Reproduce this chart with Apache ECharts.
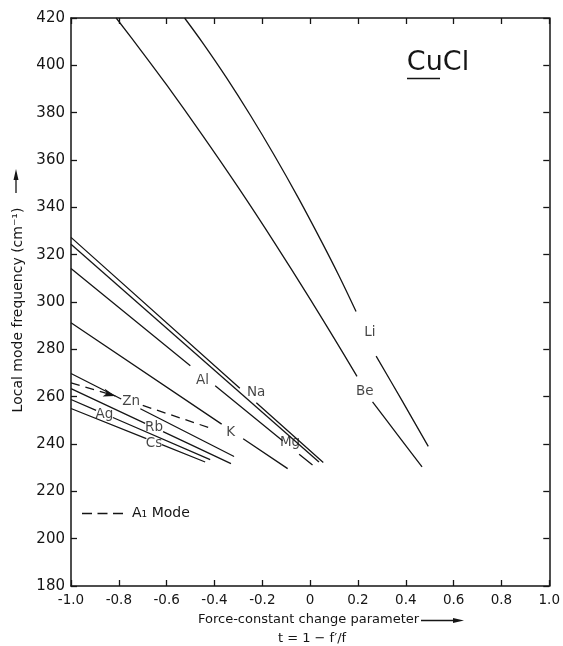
<!DOCTYPE html>
<html>
<head>
<meta charset="utf-8">
<script src="https://cdn.jsdelivr.net/npm/echarts@6/dist/echarts.min.js"></script>
<style>
  html, body { margin: 0; padding: 0; background: #fff; }
  #chart { width: 563px; height: 646px; }
</style>
</head>
<body>
<div id="chart"></div>
<script>
// Axis ranges and ticks
const xRange = [-1.0, 1.0];
const xStep = 0.2;
const yRange = [180, 420];
const yStep = 20;

// Local mode frequency (cm^-1) versus force-constant change parameter t.
// null marks a break in a curve where its label sits.
const liCurve = [[-0.525, 420], [-0.45, 409.6], [-0.35, 394.8], [-0.25, 378.9], [-0.15, 362.0],
                 [-0.05, 344.1], [0.05, 325.1], [0.12, 311.2], [0.192, 296.0],
                 null, [0.276, 277.1], [0.385, 258.2], [0.494, 239.0]];
const beCurve = [[-0.811, 420], [-0.70, 405.3], [-0.60, 391.7], [-0.45, 370.4], [-0.30, 348.3],
                 [-0.15, 325.2], [0.0, 301.2], [0.10, 284.7], [0.196, 268.6],
                 null, [0.261, 257.8], [0.365, 244.0], [0.468, 230.3]];
const naLine = [[-1.0, 327.3], [-0.294, 263.6], null, [-0.225, 257.4], [0.055, 232.2]];
const mgLine = [[-1.0, 324.4], [0.037, 232.4]];
const alLine = [[-1.0, 314.2], [-0.501, 273.1], null, [-0.397, 264.6], [-0.115, 241.4], null,
                [-0.046, 235.7], [0.010, 231.1]];
const kLine  = [[-1.0, 291.2], [-0.370, 248.4], null, [-0.280, 242.2], [-0.094, 229.6]];
const znLine = [[-1.0, 269.8], [-0.790, 259.0], null, [-0.710, 254.9], [-0.318, 234.7]];
const rbLine = [[-1.0, 263.4], [-0.690, 248.7], null, [-0.615, 245.2], [-0.331, 231.7]];
const agLine = [[-1.0, 258.8], [-0.895, 254.2], null, [-0.825, 251.2], [-0.418, 233.4]];
const csLine = [[-1.0, 255.0], [-0.685, 242.3], null, [-0.620, 239.7], [-0.439, 232.4]];
// Zn A1 mode (dashed); the first piece ends in an arrow pointing at the Zn label
const znA1Line = [[-1.0, 265.8], [-0.815, 260.3], null, [-0.700, 256.3], [-0.405, 246.3]];

// Curve labels: [t, frequency, text]
const curveLabels = [
  [0.250, 287.2, 'Li'], [0.229, 262.3, 'Be'],
  [-0.226, 261.9, 'Na'], [-0.450, 266.9, 'Al'], [-0.084, 240.7, 'Mg'],
  [-0.332, 245.0, 'K'], [-0.748, 258.1, 'Zn'],
  [-0.860, 252.6, 'Ag'], [-0.653, 247.1, 'Rb'], [-0.653, 240.3, 'Cs']
];

const FONT = 'DejaVu Sans';
const INK = '#151515';

function fmtX(v) {
  if (Math.abs(v) < 1e-9) return '0';
  return v.toFixed(1);
}

function solid(data) {
  return {
    type: 'line', data: data, symbol: 'none', smooth: false, silent: true,
    lineStyle: { color: INK, width: 1.3 }
  };
}
function curve(data) {
  return {
    type: 'line', data: data, symbol: 'none', smooth: 0.3, silent: true,
    lineStyle: { color: INK, width: 1.3 }
  };
}

const znA1Data = znA1Line.map(function (p, i) {
  if (p && i === 1) {
    return { value: p, symbol: 'arrow', symbolSize: [6, 12], symbolRotate: -106 };
  }
  return p;
});

const axisCommon = {
  type: 'value',
  axisLine: { show: true, onZero: false, lineStyle: { color: INK, width: 1.5 } },
  axisTick: { show: true, inside: true, length: 6, lineStyle: { color: INK, width: 1.3 } },
  splitLine: { show: false }
};

const chart = echarts.init(document.getElementById('chart'), null, { renderer: 'canvas' });
chart.setOption({
  backgroundColor: '#fff',
  animation: false,
  grid: { left: 71, right: 9, top: 18, bottom: 60 },
  xAxis: [
    Object.assign({}, axisCommon, {
      min: xRange[0], max: xRange[1], interval: xStep, position: 'bottom',
      axisLabel: { formatter: fmtX, color: INK, fontSize: 13.5, fontFamily: FONT, margin: 7 }
    }),
    Object.assign({}, axisCommon, {
      min: xRange[0], max: xRange[1], interval: xStep, position: 'top',
      axisLabel: { show: false }
    })
  ],
  yAxis: [
    Object.assign({}, axisCommon, {
      min: yRange[0], max: yRange[1], interval: yStep, position: 'left',
      axisLabel: { color: INK, fontSize: 15, fontFamily: FONT, margin: 6 }
    }),
    Object.assign({}, axisCommon, {
      min: yRange[0], max: yRange[1], interval: yStep, position: 'right',
      axisLabel: { show: false }
    })
  ],
  series: [
    curve(liCurve),
    curve(beCurve),
    solid(naLine),
    solid(mgLine),
    solid(alLine),
    solid(kLine),
    solid(znLine),
    solid(rbLine),
    solid(agLine),
    solid(csLine),
    {
      type: 'line', data: znA1Data, symbol: 'none', silent: true,
      itemStyle: { color: INK },
      lineStyle: { color: INK, width: 1.3, type: [9, 6] }
    },
    {
      type: 'scatter', silent: true,
      data: curveLabels.map(function (d) { return { value: [d[0], d[1]], name: d[2] }; }),
      symbolSize: 1,
      itemStyle: { color: 'transparent' },
      label: {
        show: true, position: 'inside', formatter: '{b}',
        color: INK, fontSize: 13.5, fontFamily: FONT
      }
    }
  ],
  graphic: [
    // Compound name with underlined element symbol
    {
      type: 'text', x: 438, y: 63, silent: true,
      style: { text: 'CuCl', fontSize: 27, fontFamily: FONT, fill: INK,
               align: 'center', verticalAlign: 'middle', textAlign: 'center', textVerticalAlign: 'middle' }
    },
    { type: 'line', silent: true, shape: { x1: 407, y1: 78.5, x2: 440, y2: 78.5 },
      style: { stroke: INK, lineWidth: 1.6 } },

    // A1 mode key
    { type: 'line', silent: true, shape: { x1: 82, y1: 513.5, x2: 123, y2: 513.5 },
      style: { stroke: INK, lineWidth: 1.3, lineDash: [10, 5.5] } },
    {
      type: 'text', x: 132, y: 513.5, silent: true,
      style: { text: 'A₁ Mode', fontSize: 14, fontFamily: FONT, fill: INK,
               align: 'left', verticalAlign: 'middle', textAlign: 'left', textVerticalAlign: 'middle' }
    },

    // y-axis title with arrow
    {
      type: 'text', x: 18, y: 310, rotation: Math.PI / 2, silent: true,
      style: { text: 'Local mode frequency (cm⁻¹)', fontSize: 14, fontFamily: FONT, fill: INK,
               align: 'center', verticalAlign: 'middle', textAlign: 'center', textVerticalAlign: 'middle' }
    },
    { type: 'line', silent: true, shape: { x1: 16, y1: 193, x2: 16, y2: 178 },
      style: { stroke: INK, lineWidth: 1.3 } },
    { type: 'polygon', silent: true, shape: { points: [[16, 169], [13.5, 180], [18.5, 180]] },
      style: { fill: INK } },

    // x-axis title with arrow
    {
      type: 'text', x: 198, y: 620, silent: true,
      style: { text: 'Force-constant change parameter', fontSize: 13, fontFamily: FONT, fill: INK,
               align: 'left', verticalAlign: 'middle', textAlign: 'left', textVerticalAlign: 'middle' }
    },
    { type: 'line', silent: true, shape: { x1: 421, y1: 620.5, x2: 455, y2: 620.5 },
      style: { stroke: INK, lineWidth: 1.3 } },
    { type: 'polygon', silent: true, shape: { points: [[464, 620.5], [453, 618], [453, 623]] },
      style: { fill: INK } },
    {
      type: 'text', x: 312, y: 639, silent: true,
      style: { text: 't = 1 − f′/f', fontSize: 13, fontFamily: FONT, fill: INK,
               align: 'center', verticalAlign: 'middle', textAlign: 'center', textVerticalAlign: 'middle' }
    }
  ]
});
</script>
</body>
</html>
